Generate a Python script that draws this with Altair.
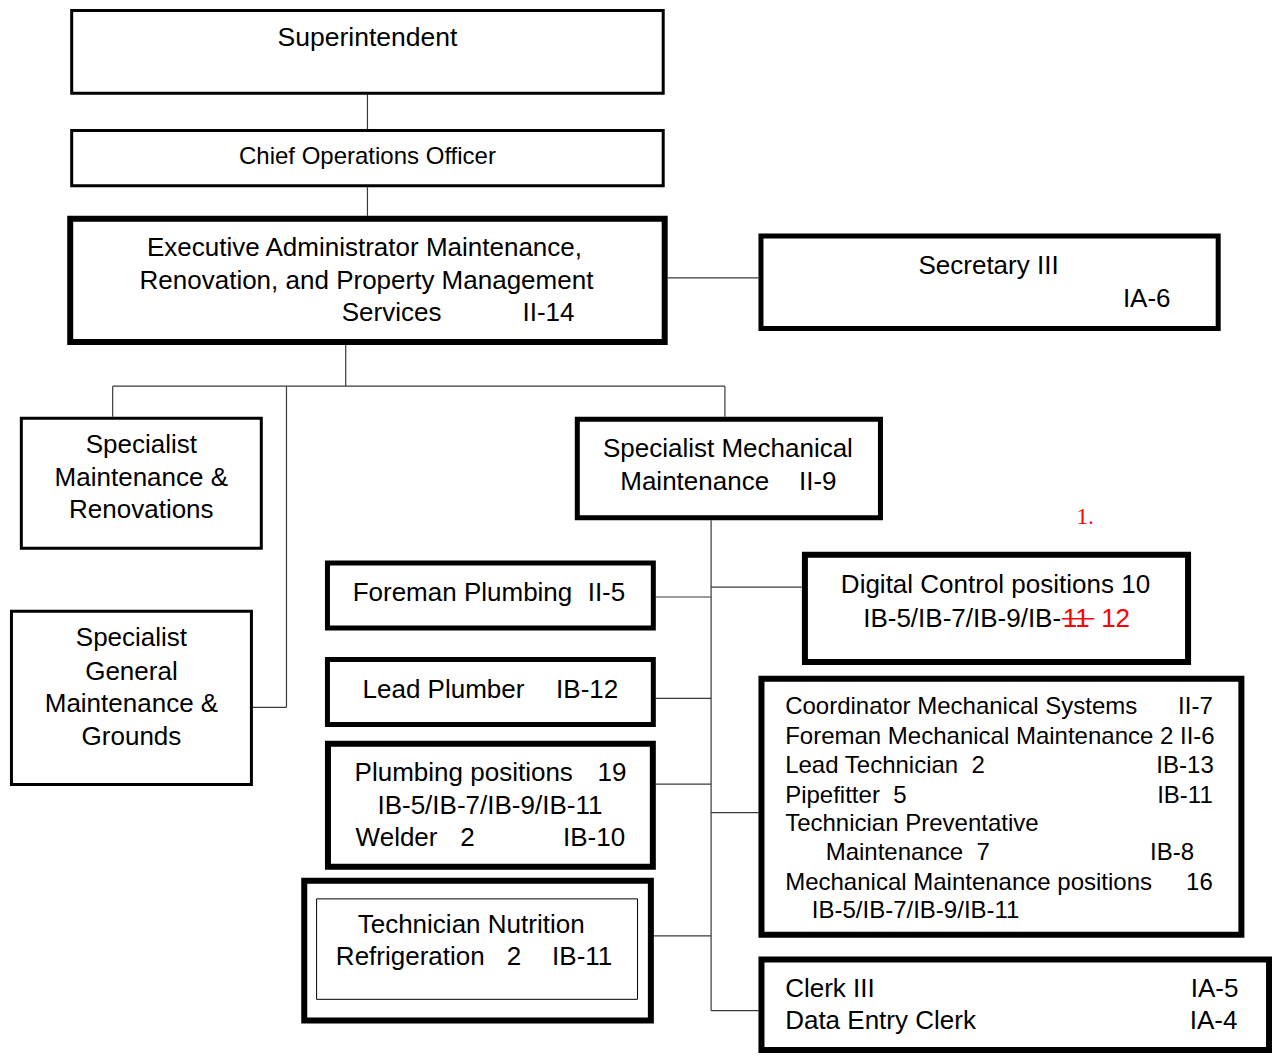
import altair as alt
import pandas as pd

# Reference canvas (pixel coordinates of the original chart)
CANVAS_W, CANVAS_H = 1280, 1061
PLOT_W, PLOT_H = 1264, 1045

# ---------------- boxes ----------------
box_names = ["Superintendent", "Chief Operations Officer", "Executive Administrator",
             "Secretary III", "Specialist M&R", "Specialist General",
             "Specialist Mechanical", "Foreman Plumbing", "Digital Control",
             "Lead Plumber", "Mechanical Systems", "Plumbing positions",
             "Technician Nutrition outer", "Technician Nutrition inner", "Clerks"]
box_x1 = [63, 63, 60, 760, 12, 2, 574, 321, 804, 321, 760, 321, 297, 312, 760]
box_x2 = [665, 665, 668, 1228, 258, 248, 886, 656, 1198, 656, 1252, 656, 654, 638, 1280]
box_y1 = [1, 123, 211, 229, 415, 611, 415, 561, 552, 659, 678, 744, 883, 904, 963]
box_y2 = [88, 182, 342, 328, 550, 790, 520, 632, 667, 730, 944, 875, 1031, 1007, 1061]
box_border = [3, 3, 6, 5, 3, 3, 5, 5, 6, 5, 6, 6, 6, 1, 6]

# ---------------- connector lines ----------------
line_x1 = [364, 364, 668, 342, 106, 106, 726, 282, 248, 712, 656, 712, 656, 656, 712, 654, 712]
line_y1 = [88, 182, 274, 342, 384, 384, 384, 384, 710, 520, 598, 588, 701, 788, 817, 942, 1018]
line_x2 = [364, 364, 760, 342, 726, 106, 726, 282, 282, 712, 712, 804, 712, 712, 760, 712, 760]
line_y2 = [123, 211, 274, 384, 384, 415, 415, 710, 710, 1018, 598, 588, 701, 788, 817, 942, 1018]

# ---------------- texts ----------------
NB = "\u00a0"
text_labels = [
    "Superintendent", "Chief Operations Officer",
    "Executive Administrator Maintenance,", "Renovation, and Property Management",
    "Services", "II-14",
    "Secretary III", "IA-6",
    "Specialist", "Maintenance &", "Renovations",
    "Specialist", "General", "Maintenance &", "Grounds",
    "Specialist Mechanical", "Maintenance", "II-9",
    "Foreman Plumbing", "II-5",
    "Digital Control positions 10", "IB-5/IB-7/IB-9/IB-", "11", "12",
    "Lead Plumber", "IB-12",
    "Plumbing positions", "19", "IB-5/IB-7/IB-9/IB-11", "Welder", "2", "IB-10",
    "Technician Nutrition", "Refrigeration", "2", "IB-11",
    "Coordinator Mechanical Systems", "II-7",
    "Foreman Mechanical Maintenance 2", "II-6",
    "Lead Technician" + NB + NB + "2", "IB-13",
    "Pipefitter" + NB + NB + "5", "IB-11",
    "Technician Preventative",
    "Maintenance" + NB + NB + "7", "IB-8",
    "Mechanical Maintenance positions", "16",
    "IB-5/IB-7/IB-9/IB-11",
    "Clerk III", "IA-5", "Data Entry Clerk", "IA-4",
    "1.",
]
text_x = [
    364, 364,
    361, 363,
    338, 521,
    922, 1129,
    135, 135, 135,
    125, 125, 125, 125,
    729, 620, 801,
    349, 587,
    1000, 866, 1068, 1107,
    359, 555,
    351, 597, 488, 352, 458, 562,
    469, 332, 505, 551,
    787, 1220,
    787, 1222,
    787, 1221,
    787, 1220,
    787,
    828, 1201,
    787, 1220,
    814,
    787, 1246, 787, 1245,
    1082,
]
text_y = [
    30, 151,
    244, 277,
    310, 310,
    262, 295,
    444, 477, 510,
    640, 674, 707, 740,
    448, 481, 481,
    594, 594,
    586, 620, 620, 620,
    692, 692,
    777, 777, 810, 843, 843, 843,
    931, 964, 964, 964,
    710, 710,
    740, 740,
    770, 770,
    800, 800,
    829,
    858, 858,
    888, 888,
    917,
    996, 996, 1029, 1029,
    517,
]
text_align = [
    "center", "center",
    "center", "center",
    "left", "left",
    "left", "left",
    "center", "center", "center",
    "center", "center", "center", "center",
    "center", "left", "left",
    "left", "left",
    "center", "left", "left", "left",
    "left", "left",
    "left", "left", "center", "left", "left", "left",
    "center", "left", "left", "left",
    "left", "right",
    "left", "right",
    "left", "right",
    "left", "right",
    "left",
    "left", "right",
    "left", "right",
    "left",
    "left", "right", "left", "right",
    "left",
]
text_size = [26.5, 24] + [26] * 34 + [24] * 14 + [26] * 4 + [23]
text_color = ["black"] * 22 + ["red", "red"] + ["black"] * 30 + ["red"]
text_font = ["Liberation Sans"] * 54 + ["Liberation Serif"]

# strike-through on the replaced grade
strike_x1 = [1067]
strike_x2 = [1100]
strike_y = [620]

# ---------------- build tables ----------------
boxes = pd.DataFrame({
    "name": box_names,
    "x1": [a + b / 2 for a, b in zip(box_x1, box_border)],
    "x2": [a - b / 2 for a, b in zip(box_x2, box_border)],
    "y1": [a + b / 2 for a, b in zip(box_y1, box_border)],
    "y2": [a - b / 2 for a, b in zip(box_y2, box_border)],
    "sw": box_border,
})
lines = pd.DataFrame({"x1": line_x1, "y1": line_y1, "x2": line_x2, "y2": line_y2})
texts = pd.DataFrame({
    "label": text_labels, "x": text_x, "y": text_y, "align": text_align,
    "size": text_size, "color": text_color, "font": text_font,
})
strikes = pd.DataFrame({"x1": strike_x1, "x2": strike_x2, "y": strike_y})

xs = alt.Scale(domain=[0, CANVAS_W], nice=False, zero=False)
ys = alt.Scale(domain=[0, CANVAS_H], nice=False, zero=False, reverse=True)


def X(f):
    return alt.X(f, type="quantitative", scale=xs, axis=None)


def Y(f):
    return alt.Y(f, type="quantitative", scale=ys, axis=None)


line_layer = alt.Chart(lines).mark_rule(color="#3a3a3a", strokeWidth=1.2).encode(
    x=X("x1"), y=Y("y1"), x2="x2", y2="y2")

box_layer = alt.Chart(boxes).mark_rect(fill="white", stroke="black").encode(
    x=X("x1"), x2="x2", y=Y("y1"), y2="y2",
    strokeWidth=alt.StrokeWidth("sw:Q", scale=None))

text_layers = []
for al in ["left", "center", "right"]:
    for fnt in ["Liberation Sans", "Liberation Serif"]:
        sub = texts[(texts["align"] == al) & (texts["font"] == fnt)]
        if len(sub) == 0:
            continue
        text_layers.append(
            alt.Chart(sub).mark_text(align=al, baseline="middle", font=fnt).encode(
                x=X("x"), y=Y("y"), text="label:N",
                size=alt.Size("size:Q", scale=None),
                color=alt.Color("color:N", scale=None)))

strike_layer = alt.Chart(strikes).mark_rule(color="red", strokeWidth=1.5).encode(
    x=X("x1"), x2="x2", y=Y("y"))

chart = alt.layer(line_layer, box_layer, *text_layers, strike_layer).properties(
    width=PLOT_W, height=PLOT_H,
    autosize=alt.AutoSizeParams(type="none"),
    padding=0,
    background="white",
).configure_view(stroke=None, strokeWidth=0)

chart.save("out.html", embed_options={"renderer": "svg", "actions": False})
